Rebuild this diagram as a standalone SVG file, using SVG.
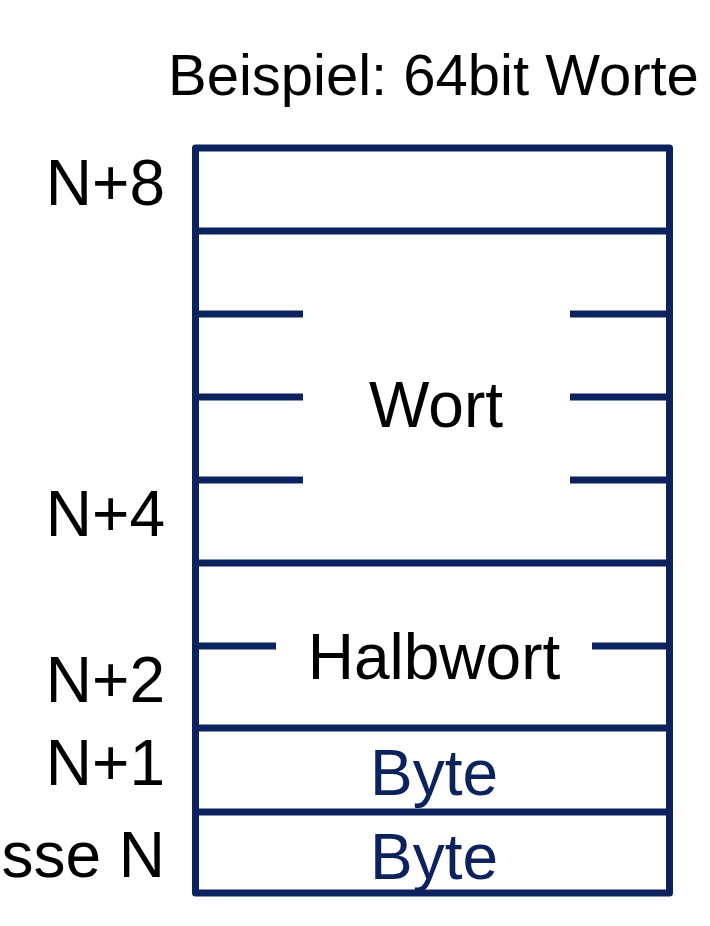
<svg xmlns="http://www.w3.org/2000/svg" width="710" height="926" viewBox="0 0 710 926">
<style>
.ln{stroke:#0c225e;stroke-width:7;fill:none;stroke-linejoin:round}
.t{font-family:"Liberation Sans",Arial,sans-serif;fill:#000}
.lbl{font-size:64px;text-anchor:end}
.c{text-anchor:middle;font-size:64px}
.b{fill:#0c225e}
</style>
<rect width="710" height="926" fill="#fff"/>
<text class="t" x="168" y="95" font-size="58">Beispiel: 64bit Worte</text>
<g id="labels">
<text class="t lbl" x="165" y="205">N+8</text>
<text class="t lbl" x="165" y="536">N+4</text>
<text class="t lbl" x="165" y="702">N+2</text>
<text class="t lbl" x="165" y="785">N+1</text>
<text class="t lbl" x="165" y="877">Adresse N</text>
</g>
<g id="memory">
<rect class="ln" x="195.5" y="148" width="474" height="745"/>
<line class="ln" x1="195.5" y1="231" x2="669.5" y2="231"/>
<line class="ln" x1="195.5" y1="563" x2="669.5" y2="563"/>
<line class="ln" x1="195.5" y1="728" x2="669.5" y2="728"/>
<line class="ln" x1="195.5" y1="812" x2="669.5" y2="812"/>
</g>
<g id="wort">
<line class="ln" x1="195.5" y1="314" x2="303" y2="314"/>
<line class="ln" x1="195.5" y1="397" x2="303" y2="397"/>
<line class="ln" x1="195.5" y1="480" x2="303" y2="480"/>
<line class="ln" x1="570" y1="314" x2="669.5" y2="314"/>
<line class="ln" x1="570" y1="397" x2="669.5" y2="397"/>
<line class="ln" x1="570" y1="480" x2="669.5" y2="480"/>
<text class="t c" x="436" y="427">Wort</text>
</g>
<g id="halbwort">
<line class="ln" x1="195.5" y1="646" x2="276" y2="646"/>
<line class="ln" x1="592" y1="646" x2="669.5" y2="646"/>
<text class="t c" x="434" y="679">Halbwort</text>
</g>
<g id="byte1">
<text class="t c b" x="434" y="795">Byte</text>
</g>
<g id="byte0">
<text class="t c b" x="434" y="879">Byte</text>
</g>
</svg>
